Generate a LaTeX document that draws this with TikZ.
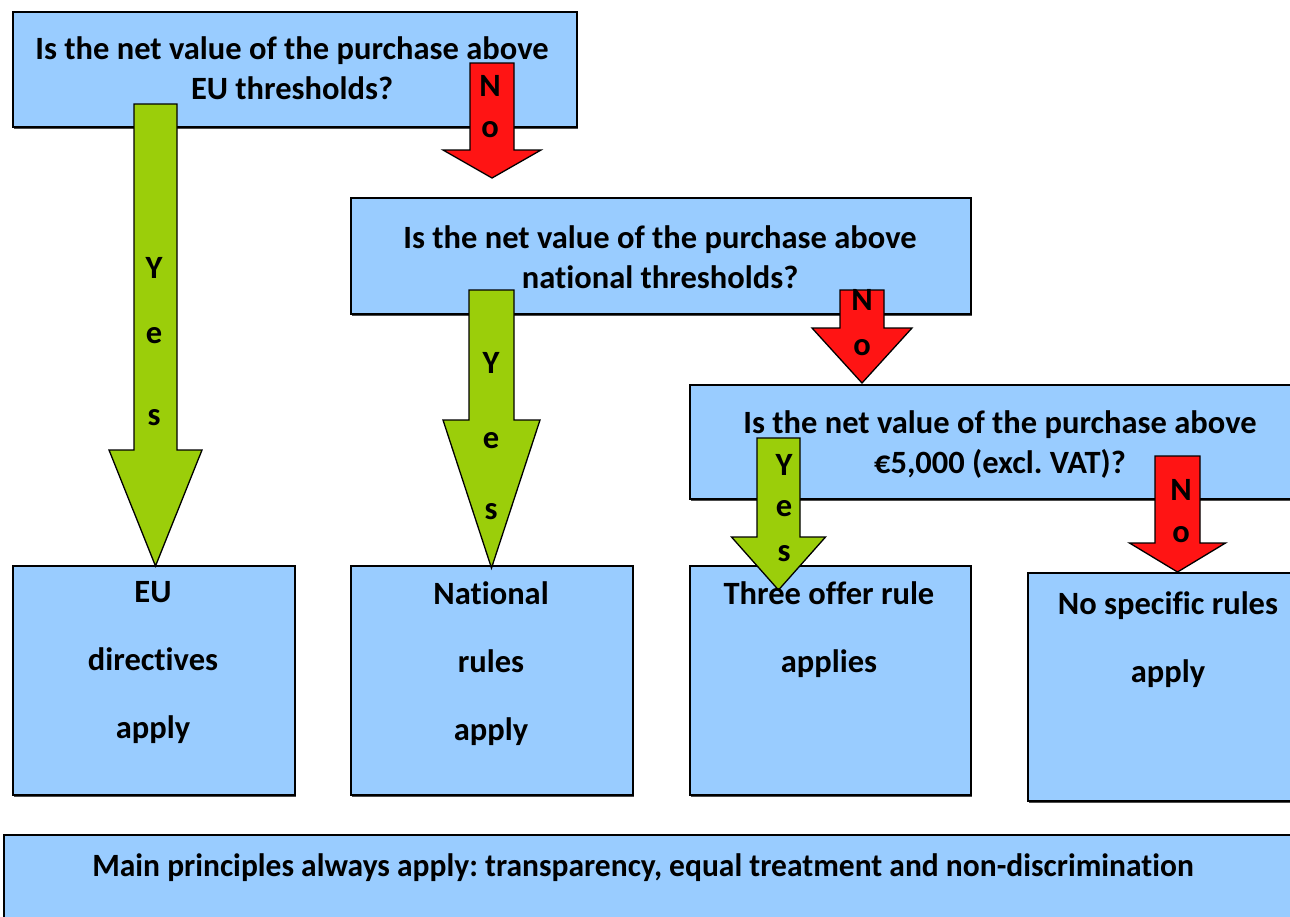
\documentclass[tikz,border=0pt]{standalone}
\usepackage{fontspec}
\setmainfont{Carlito}[Ligatures={NoCommon}]
\usepackage{graphicx}
\usetikzlibrary{shadows}
\frenchspacing
\definecolor{boxblue}{RGB}{153,204,255}
\definecolor{yesgreen}{RGB}{155,206,10}
\definecolor{nored}{RGB}{255,20,20}
\tikzset{
  qbox/.style={draw=black, line width=1.5pt, fill=boxblue, anchor=north west, inner sep=0pt,
    drop shadow={shadow xshift=1pt, shadow yshift=-2pt, fill=black!70, opacity=1}},
  yesarrow/.style={draw=black, line width=1.3pt, fill=yesgreen, line join=miter},
  noarrow/.style={draw=black, line width=1.3pt, fill=nored, line join=miter},
  txt/.style={font=\bfseries\fontsize{32.5}{40}\selectfont, align=center, inner sep=0pt},
  lbl/.style={font=\bfseries\fontsize{32.5}{34}\selectfont, inner sep=0pt},
}
% #1 style, #2 centre x, #3 top y, #4 half shaft, #5 head base y, #6 half head, #7 tip y
\newcommand{\blockarr}[7]{%
  \draw[#1] ({#2-#4},#3) -- ({#2+#4},#3) -- ({#2+#4},#5) -- ({#2+#6},#5) -- (#2,#7)
    -- ({#2-#6},#5) -- ({#2-#4},#5) -- cycle;}
\begin{document}
\begin{tikzpicture}[x=1pt,y=-1pt]
\useasboundingbox (0,0) rectangle (1290,916);
% boxes
\node[qbox, minimum width=564pt, minimum height=115pt] (q1) at (12,11) {};
\node[qbox, minimum width=620pt, minimum height=116pt] (q2) at (350,197) {};
\node[qbox, minimum width=610pt, minimum height=114pt] (q3) at (689,384) {};
\node[qbox, minimum width=282pt, minimum height=229pt] (r1) at (12,565) {};
\node[qbox, minimum width=282pt, minimum height=229pt] (r2) at (350,565) {};
\node[qbox, minimum width=281pt, minimum height=229pt] (r3) at (689,565) {};
\node[qbox, minimum width=270pt, minimum height=228pt] (r4) at (1027,572) {};
\node[qbox, minimum width=1300pt, minimum height=100pt] (main) at (3,834) {};
% arrows
\blockarr{yesarrow}{155.5}{104}{21.5}{450}{46.5}{566}
\blockarr{noarrow}{492}{63}{22}{150}{49}{178}
\blockarr{yesarrow}{491.5}{290}{22.5}{420}{48.5}{568}
\blockarr{noarrow}{862}{290}{22}{328}{50}{383}
\blockarr{yesarrow}{778.5}{438}{21.5}{537}{47}{590}
\blockarr{noarrow}{1177.5}{456}{22.5}{543}{48}{572}
% texts
\node[txt] (t1) at (292,68) {Is the net value of the purchase above\\EU thresholds?};
\node[txt] (t2) at (660,257) {Is the net value of the purchase above\\national thresholds?};
\node[txt] (t3) at (1000,445) {Is the net value of the purchase above\\€5,000 (excl. VAT)?};
\node[txt, anchor=north] (t4) at (153,581) {EU\\[28pt]directives\\[28pt]apply};
\node[txt, anchor=north] (t5) at (491,581) {National\\[28pt]rules\\[28pt]apply};
\node[txt, anchor=north] (t6) at (829,581) {Three offer rule\\[28pt]applies};
\node[txt, anchor=north] (t7) at (1168,591) {No specific rules\\[28pt]apply};
\node[txt] (t8) at (643,868) {\scalebox{0.97}[1]{Main principles always apply: transparency, equal treatment and non-discrimination}};
% arrow labels
\node[lbl] at (154,268) {Y};
\node[lbl] at (154,336) {e};
\node[lbl] at (154,418) {s};
\node[lbl] at (491,363) {Y};
\node[lbl] at (491,441) {e};
\node[lbl] at (491,512) {s};
\node[lbl] at (784,465) {Y};
\node[lbl] at (784,509) {e};
\node[lbl] at (784,554) {s};
\node[lbl] at (490,86) {N};
\node[lbl] at (490,130) {o};
\node[lbl] at (862,300) {N};
\node[lbl] at (862,348) {o};
\node[lbl] at (1181,490) {N};
\node[lbl] at (1181,535) {o};
\end{tikzpicture}
\end{document}
